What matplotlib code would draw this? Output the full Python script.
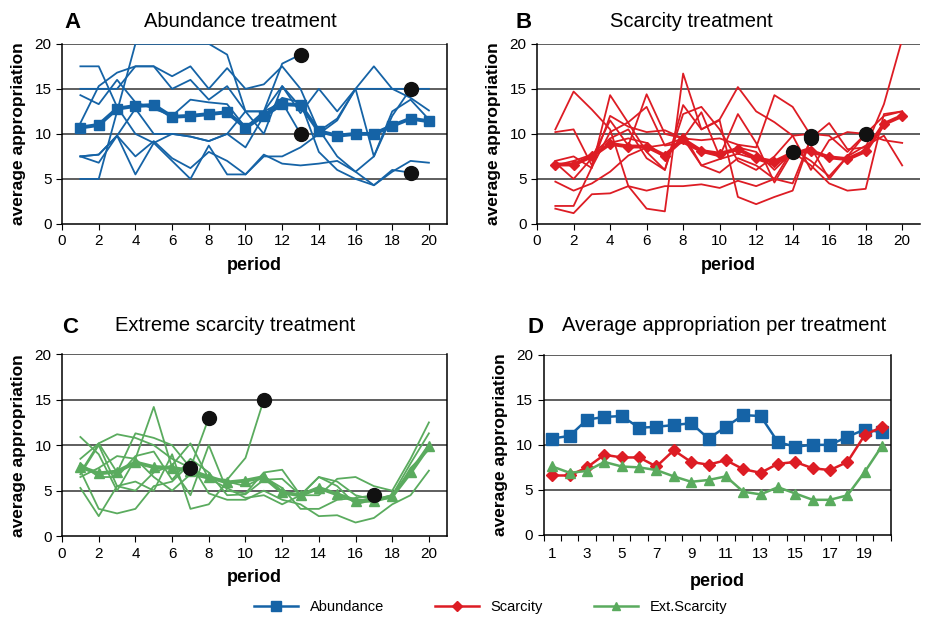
import numpy as np
import matplotlib
matplotlib.use("Agg")
import matplotlib.pyplot as plt

plt.rcParams['font.family'] = ['Liberation Sans', 'DejaVu Sans']

periods = np.arange(1, 21)

# treatment averages (panel D and thick lines in A-C)
abundance_mean = [10.7, 11.0, 12.8, 13.1, 13.2, 11.9, 12.0, 12.2, 12.4, 10.7,
                  12.0, 13.3, 13.2, 10.3, 9.8, 10.0, 10.0, 10.9, 11.7, 11.4]
scarcity_mean = [6.6, 6.6, 7.5, 8.9, 8.6, 8.6, 7.6, 9.4, 8.1, 7.8,
                 8.3, 7.3, 6.9, 7.9, 8.1, 7.4, 7.2, 8.1, 11.1, 12.0]
extscarcity_mean = [7.6, 6.9, 7.1, 8.1, 7.6, 7.5, 7.2, 6.5, 5.9, 6.1,
                    6.5, 4.8, 4.5, 5.3, 4.6, 3.9, 3.9, 4.4, 7.0, 9.9]

# single groups, a group that stops early ends with a black dot
abundance_groups = [
    [5.0, 5.0, 12.5, 20.0, 20.0, 20.0, 20.0, 20.0, 18.8, 12.5, 12.5, 17.8, 18.8],
    [17.5, 17.5, 13.0, 10.0, 9.0, 10.0, 9.7, 9.2, 10.0, 12.5, 12.5, 15.3, 13.0, 10.5, 7.5, 5.8, 7.5, 12.0, 15.0],
    [15.0, 15.0, 15.0, 17.5, 17.5, 16.4, 17.5, 15.0, 17.3, 15.0, 15.5, 17.5, 15.0, 10.3, 11.7, 15.0, 15.0, 15.0, 15.0, 15.0],
    [11.2, 15.3, 16.8, 17.5, 17.5, 15.0, 16.0, 13.8, 15.3, 12.5, 10.0, 15.3, 12.3, 15.0, 12.5, 15.0, 17.5, 15.0, 14.0, 12.6],
    [14.3, 13.3, 16.0, 13.5, 12.8, 12.0, 13.8, 13.5, 13.3, 10.7, 12.5, 13.5, 10.0],
    [7.5, 7.7, 9.8, 7.5, 9.2, 7.3, 6.2, 8.0, 7.0, 5.5, 7.5, 7.5, 8.5, 10.0, 11.5, 15.0, 7.5, 12.5, 13.8, 11.6],
    [7.5, 6.8, 9.8, 5.5, 9.0, 7.0, 5.0, 8.7, 5.5, 5.5, 7.7, 6.7, 6.5, 6.7, 7.0, 5.8, 4.3, 5.8, 7.0, 6.8],
    [7.5, 7.7, 9.8, 12.8, 10.0, 10.0, 9.7, 9.2, 10.0, 8.5, 12.0, 14.0, 13.5, 8.0, 6.0, 5.0, 4.3, 6.0, 5.7],
]
scarcity_groups = [
    [10.5, 14.7, 12.7, 10.5, 4.2, 1.7, 1.4, 16.7, 10.5, 11.5, 3.0, 2.2, 3.0, 3.7, 9.5, 11.2, 8.3, 8.5, 13.3, 20.5],
    [10.2, 10.5, 6.5, 12.0, 10.8, 10.2, 10.4, 9.5, 9.3, 9.5, 8.8, 8.5, 14.3, 13.0, 9.8],
    [7.0, 7.5, 6.2, 14.3, 11.2, 8.0, 6.0, 13.2, 10.5, 11.6, 15.2, 12.5, 11.3, 9.8, 6.0, 9.3, 10.2, 10.0],
    [6.8, 5.0, 7.3, 11.5, 8.7, 14.4, 10.0, 9.5, 12.4, 7.5, 12.2, 9.0, 4.6, 8.0],
    [4.7, 3.7, 4.5, 5.8, 7.6, 8.5, 8.8, 9.5, 6.5, 5.7, 7.3, 6.5, 5.0, 4.5, 9.5],
    [2.0, 2.0, 6.3, 10.2, 11.3, 13.0, 8.7, 9.0, 8.0, 7.5, 8.5, 8.0, 6.0, 8.0, 6.5, 4.5, 3.7, 3.9, 12.2, 12.5],
    [1.7, 1.2, 3.3, 3.4, 4.2, 3.7, 4.2, 4.2, 4.4, 4.0, 4.8, 4.2, 5.0, 8.3, 7.0, 5.3, 7.5, 8.7, 9.8, 6.5],
    [6.7, 6.5, 7.5, 9.0, 9.5, 9.0, 7.3, 10.0, 6.5, 7.2, 7.8, 7.2, 6.5, 7.8, 8.5, 5.0, 7.5, 10.0, 12.0, 12.5],
    [6.5, 7.0, 7.7, 9.5, 10.5, 7.3, 6.0, 12.2, 13.0, 10.5, 7.0, 6.0, 7.5, 9.8, 10.0, 9.8, 8.0, 10.0, 9.3, 9.0],
]
extscarcity_groups = [
    [10.9, 9.0, 5.0, 8.5, 14.2, 7.5, 4.5, 10.0, 5.0, 4.7, 7.0, 7.3, 4.5, 4.5, 6.3, 6.5, 5.5, 5.0, 8.5, 12.5],
    [8.5, 10.2, 7.0, 11.3, 10.8, 10.0, 7.5, 13.0],
    [6.8, 10.0, 5.5, 5.0, 7.0, 7.8, 10.2, 6.3, 6.2, 8.6, 15.0],
    [5.3, 2.2, 5.5, 6.0, 5.0, 9.0, 3.0, 3.5, 6.0, 5.5, 6.5, 5.3, 3.0, 3.0, 4.0, 4.2, 4.5],
    [7.0, 10.2, 11.2, 10.8, 10.0, 8.5, 7.5],
    [8.0, 6.5, 6.5, 8.8, 9.3, 6.2, 8.5, 7.0, 4.5, 4.6, 6.2, 6.3, 4.5, 6.5, 5.5, 3.5, 4.0, 4.5, 8.0, 11.3],
    [7.2, 3.0, 2.5, 3.0, 5.5, 6.0, 8.0, 4.7, 4.0, 4.0, 5.0, 4.0, 3.5, 2.2, 2.3, 1.5, 2.0, 3.5, 4.5, 7.2],
    [6.5, 7.5, 8.8, 8.5, 6.5, 5.0, 6.8, 6.3, 5.3, 4.2, 4.5, 3.5, 4.5, 6.5, 6.0, 4.5, 4.0, 4.2, 7.5, 9.5],
]

blue = '#1563a6'
red = '#dd1c24'
green = '#5aab5e'

fig = plt.figure(figsize=(9.26, 6.17), dpi=100)

def base_axes(ax, right_spine=True):
    ax.set_ylim(0, 20)
    ax.set_yticks([0, 5, 10, 15, 20])
    for v in [5, 10, 15, 20]:
        ax.axhline(v, color='#333333', lw=1.1, zorder=1)
    ax.spines['top'].set_visible(False)
    ax.spines['right'].set_visible(right_spine)
    for s in ['left', 'bottom', 'right']:
        ax.spines[s].set_linewidth(1.1)
    ax.tick_params(axis='both', labelsize=11, direction='out', length=4)
    ax.set_ylabel('average appropriation', fontsize=12.5, fontweight='bold', labelpad=6)
    ax.set_xlabel('period', fontsize=13, fontweight='bold', labelpad=6)

def panel(rect, groups, mean, color, marker, ms, right_spine=True):
    ax = fig.add_axes(rect)
    base_axes(ax, right_spine)
    for g in groups:
        x = periods[:len(g)]
        ax.plot(x, g, color=color, lw=1.3, zorder=2)
        if len(g) < 20:
            ax.plot(x[-1], g[-1], 'o', color='#111111', ms=10, zorder=4)
    ax.plot(periods, mean, color=color, lw=2.8, marker=marker, ms=ms, zorder=3)
    ax.set_xlim(0, 21)
    ax.set_xticks(range(0, 21, 2))
    return ax

axA = panel([0.067, 0.637, 0.416, 0.292], abundance_groups, abundance_mean, blue, 's', 7)
axB = panel([0.580, 0.637, 0.414, 0.292], scarcity_groups, scarcity_mean, red, 'D', 5.5, right_spine=False)
axC = panel([0.067, 0.131, 0.416, 0.295], extscarcity_groups, extscarcity_mean, green, '^', 7)

axD = fig.add_axes([0.587, 0.133, 0.375, 0.292])
base_axes(axD)
axD.plot(periods, abundance_mean, color=blue, lw=1.8, marker='s', ms=8, zorder=3, label='Abundance')
axD.plot(periods, scarcity_mean, color=red, lw=1.8, marker='D', ms=6.5, zorder=3, label='Scarcity')
axD.plot(periods, extscarcity_mean, color=green, lw=1.8, marker='^', ms=7.5, zorder=3, label='Ext.Scarcity')
axD.set_xlim(0.5, 20.5)
axD.set_xticks(np.arange(0.5, 21, 1))
axD.set_xticklabels([])
axD.set_xticks(periods[::2], minor=True)
axD.set_xticklabels([str(p) for p in periods[::2]], minor=True)
axD.tick_params(axis='x', which='minor', length=0, labelsize=11, pad=9)
axD.xaxis.labelpad = 8

# panel titles
fig.text(0.078, 0.963, 'A', fontsize=16, fontweight='bold', va='center', ha='center')
fig.text(0.156, 0.965, 'Abundance treatment', fontsize=14.5, va='center')
fig.text(0.565, 0.963, 'B', fontsize=16, fontweight='bold', va='center', ha='center')
fig.text(0.659, 0.965, 'Scarcity treatment', fontsize=14.5, va='center')
fig.text(0.076, 0.470, 'C', fontsize=16, fontweight='bold', va='center', ha='center')
fig.text(0.124, 0.472, 'Extreme scarcity treatment', fontsize=14.5, va='center')
fig.text(0.578, 0.470, 'D', fontsize=16, fontweight='bold', va='center', ha='center')
fig.text(0.607, 0.472, 'Average appropriation per treatment', fontsize=14.5, va='center')

handles, labels = axD.get_legend_handles_labels()
fig.legend(handles, labels, loc='center', bbox_to_anchor=(0.53, 0.016), ncol=3,
           frameon=False, fontsize=10.5, handlelength=3, columnspacing=3.5,
           markerscale=0.85)

fig.savefig('out.png', dpi=100)
